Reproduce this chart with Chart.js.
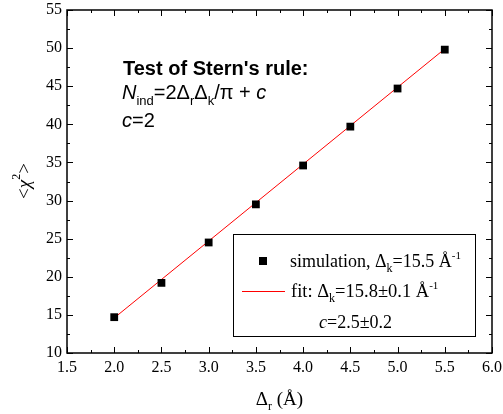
<!DOCTYPE html>
<html>
<head>
<meta charset="utf-8">
<script src="https://cdn.jsdelivr.net/npm/chart.js@4"></script>
<style>
  html, body { margin: 0; padding: 0; background: #fff; }
  #wrap { width: 503px; height: 414px; }
</style>
</head>
<body>
<div id="wrap"><canvas id="c" width="503" height="414"></canvas></div>
<script>
// data
const deltaR = [2.0, 2.5, 3.0, 3.5, 4.0, 4.5, 5.0, 5.5];
const chiSq = [14.7, 19.2, 24.5, 29.5, 34.6, 39.7, 44.7, 49.8];
const fitX = [2.0, 5.5];
const fitY = [14.6, 49.9];
const xTicks = [1.5, 2.0, 2.5, 3.0, 3.5, 4.0, 4.5, 5.0, 5.5, 6.0];
const yTicks = [10, 15, 20, 25, 30, 35, 40, 45, 50, 55];

const serif = '"Liberation Serif", "Times New Roman", serif';
const sans = '"Liberation Sans", Arial, sans-serif';

// draw a run of text pieces, each {t, f, dy}
function drawRich(ctx, x, y, parts) {
    let cx = x;
    parts.forEach(p => {
        ctx.font = p.f;
        ctx.fillText(p.t, cx, y + (p.dy || 0));
        cx += ctx.measureText(p.t).width;
    });
    return cx - x;
}

const decorations = {
    id: 'decorations',
    afterDraw(chart) {
        const ctx = chart.ctx;
        const a = chart.chartArea;
        const xs = chart.scales.x, ys = chart.scales.y;
        ctx.save();
        ctx.strokeStyle = '#000';
        ctx.lineWidth = 1.5;
        ctx.strokeRect(a.left, a.top, a.right - a.left, a.bottom - a.top);

        // inward ticks on all four sides
        ctx.lineWidth = 1;
        ctx.beginPath();
        for (let v = 1.5; v <= 6.001; v += 0.25) {
            const px = Math.round(xs.getPixelForValue(v)) + 0.5;
            const len = Math.abs(v * 2 - Math.round(v * 2)) < 0.01 ? 6 : 3;
            ctx.moveTo(px, a.bottom); ctx.lineTo(px, a.bottom - len);
            ctx.moveTo(px, a.top); ctx.lineTo(px, a.top + len);
        }
        for (let v = 10; v <= 55.01; v += 2.5) {
            const py = Math.round(ys.getPixelForValue(v)) + 0.5;
            const len = Math.abs(v / 5 - Math.round(v / 5)) < 0.01 ? 6 : 3;
            ctx.moveTo(a.left, py); ctx.lineTo(a.left + len, py);
            ctx.moveTo(a.right, py); ctx.lineTo(a.right - len, py);
        }
        ctx.stroke();

        ctx.fillStyle = '#000';
        ctx.textBaseline = 'alphabetic';
        ctx.textAlign = 'left';

        // annotation text
        ctx.font = 'bold 20px ' + sans;
        ctx.fillText("Test of Stern's rule:", 123, 75);
        drawRich(ctx, 122, 99, [
            { t: 'N', f: 'italic 20px ' + sans },
            { t: 'ind', f: '13px ' + sans, dy: 6 },
            { t: '=2\u0394', f: '20px ' + sans },
            { t: 'r', f: '13px ' + sans, dy: 6 },
            { t: '\u0394', f: '20px ' + sans },
            { t: 'k', f: '13px ' + sans, dy: 6 },
            { t: '/\u03c0 + ', f: '20px ' + sans },
            { t: 'c', f: 'italic 20px ' + sans }
        ]);
        drawRich(ctx, 122, 127, [
            { t: 'c', f: 'italic 20px ' + sans },
            { t: '=2', f: '20px ' + sans }
        ]);

        // legend box
        ctx.lineWidth = 1;
        ctx.strokeRect(233.5, 234.5, 242, 102);
        ctx.fillRect(259, 257, 8, 8);
        drawRich(ctx, 290, 267, [
            { t: 'simulation, \u0394', f: '18px ' + serif },
            { t: 'k', f: '12px ' + serif, dy: 5 },
            { t: '=15.5 \u00c5', f: '18px ' + serif },
            { t: '-1', f: '11px ' + serif, dy: -8 }
        ]);
        ctx.strokeStyle = '#ff0000';
        ctx.beginPath();
        ctx.moveTo(242, 291.5); ctx.lineTo(285, 291.5);
        ctx.stroke();
        drawRich(ctx, 291, 297, [
            { t: 'fit: \u0394', f: '18.5px ' + serif },
            { t: 'k', f: '12px ' + serif, dy: 5 },
            { t: '=15.8\u00b10.1 \u00c5', f: '18.5px ' + serif },
            { t: '-1', f: '11px ' + serif, dy: -8 }
        ]);
        drawRich(ctx, 319, 328, [
            { t: 'c', f: 'italic 18px ' + serif },
            { t: '=2.5\u00b10.2', f: '18px ' + serif }
        ]);

        // x axis title
        ctx.font = '19px ' + serif;
        const w1 = ctx.measureText('\u0394').width;
        ctx.font = '12px ' + serif;
        const w2 = ctx.measureText('r').width;
        ctx.font = '19px ' + serif;
        const w3 = ctx.measureText(' (\u00c5)').width;
        const startX = (a.left + a.right) / 2 - (w1 + w2 + w3) / 2;
        drawRich(ctx, startX, 405, [
            { t: '\u0394', f: '19px ' + serif },
            { t: 'r', f: '12px ' + serif, dy: 5 },
            { t: ' (\u00c5)', f: '19px ' + serif }
        ]);

        // y axis title
        ctx.translate(30, 181);
        ctx.rotate(-Math.PI / 2);
        ctx.font = '19px ' + serif;
        const t1 = ctx.measureText('<\u03c7').width;
        ctx.font = '12px ' + serif;
        const t2 = ctx.measureText('2').width;
        ctx.font = '19px ' + serif;
        const t3 = ctx.measureText('>').width;
        drawRich(ctx, -(t1 + t2 + t3) / 2, 0, [
            { t: '<', f: '19px ' + serif },
            { t: '\u03c7', f: 'italic 19px ' + serif },
            { t: '2', f: '12px ' + serif, dy: -10 },
            { t: '>', f: '19px ' + serif }
        ]);
        ctx.restore();
    }
};

new Chart(document.getElementById('c'), {
    type: 'scatter',
    data: {
        datasets: [
            {
                label: 'simulation',
                data: deltaR.map((x, i) => ({ x: x, y: chiSq[i] })),
                pointStyle: 'rect',
                pointRadius: 5.5,
                backgroundColor: '#000',
                borderColor: '#000',
                borderWidth: 0,
                order: 0
            },
            {
                label: 'fit',
                type: 'line',
                data: fitX.map((x, i) => ({ x: x, y: fitY[i] })),
                borderColor: '#ff0000',
                borderWidth: 1,
                pointRadius: 0,
                fill: false,
                order: 1
            }
        ]
    },
    options: {
        responsive: false,
        animation: false,
        layout: { padding: { top: 10, right: 11, left: 0, bottom: 0 } },
        plugins: { legend: { display: false }, tooltip: { enabled: false } },
        scales: {
            x: {
                type: 'linear',
                min: 1.5, max: 6.0,
                afterBuildTicks: s => { s.ticks = xTicks.map(v => ({ value: v })); },
                afterFit: s => { s.height = 61; s.paddingLeft = 0; s.paddingRight = 0; },
                grid: { display: false, drawTicks: false },
                border: { display: false },
                ticks: {
                    color: '#000',
                    font: { family: serif, size: 16 },
                    padding: 5,
                    maxRotation: 0,
                    autoSkip: false,
                    callback: v => v.toFixed(1)
                }
            },
            y: {
                min: 10, max: 55,
                afterBuildTicks: s => { s.ticks = yTicks.map(v => ({ value: v })); },
                afterFit: s => { s.width = 67; s.paddingTop = 0; s.paddingBottom = 0; },
                grid: { display: false, drawTicks: false },
                border: { display: false },
                ticks: {
                    color: '#000',
                    font: { family: serif, size: 16 },
                    padding: 5,
                    autoSkip: false
                }
            }
        }
    },
    plugins: [decorations]
});
</script>
</body>
</html>
